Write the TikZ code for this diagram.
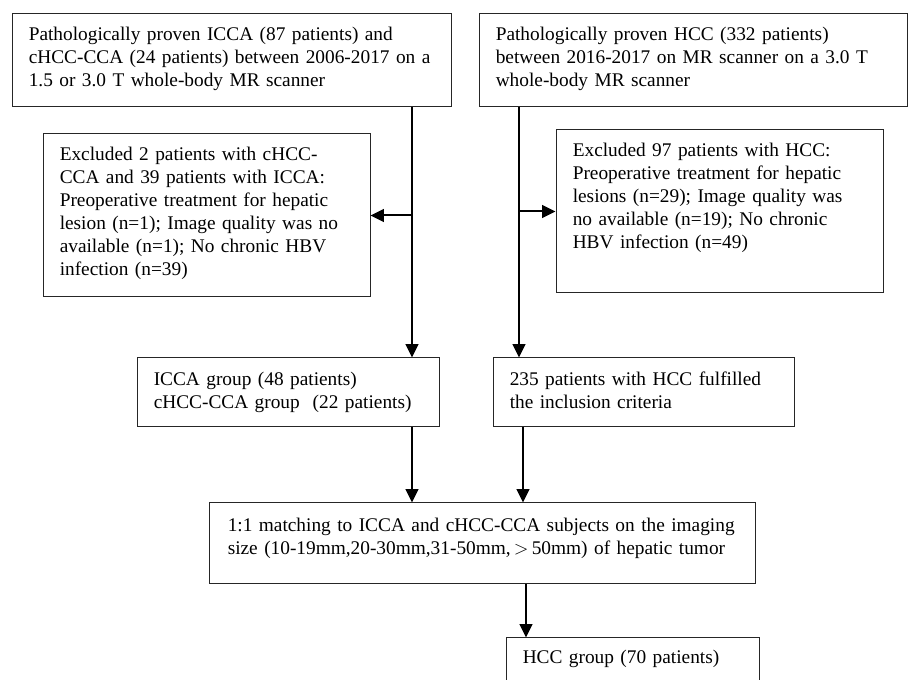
\documentclass[tikz,border=0pt]{standalone}
\usepackage{fontspec}
\setmainfont{Liberation Serif}
\usetikzlibrary{arrows.meta,fit}

\begin{document}
\begin{tikzpicture}[x=0.75pt,y=-0.75pt,
    flowbox/.style={draw=black!85,line width=0.75pt,inner sep=0pt},
    flowtext/.style={anchor=base west,align=left,inner sep=0pt,text width=460pt,
      font=\fontsize{14.5}{17.25}\selectfont},
    flowarrow/.style={line width=1.5pt,-{Triangle[length=10pt,width=9.5pt]}}]

  \useasboundingbox (0,0) rectangle (908,680);

  % boxes
  \node[flowbox, fit={(12,14) (451,107)}] (iccasrc) {};
  \node[flowbox, fit={(479,14) (907,107)}] (hccsrc) {};
  \node[flowbox, fit={(43,134) (370,297)}] (exclicca) {};
  \node[flowbox, fit={(556,130) (883,293)}] (exclhcc) {};
  \node[flowbox, fit={(137,358) (439,427)}] (iccagrp) {};
  \node[flowbox, fit={(493,358) (794,427)}] (hccincl) {};
  \node[flowbox, fit={(209,503) (755,584)}] (match) {};
  \node[flowbox, fit={(506,638) (759,700)}] (hccgrp) {};

  % texts
  \node[flowtext] (iccasrctxt) at ([shift={(17,27)}]iccasrc.north west)
    {Pathologically proven ICCA (87 patients) and\\
     cHCC-CCA (24 patients) between 2006-2017 on a\\
     1.5 or 3.0 T whole-body MR scanner};
  \node[flowtext] (hccsrctxt) at ([shift={(17,27)}]hccsrc.north west)
    {Pathologically proven HCC (332 patients)\\
     between 2016-2017 on MR scanner on a 3.0 T\\
     whole-body MR scanner};
  \node[flowtext] (excliccatxt) at ([shift={(17,27)}]exclicca.north west)
    {Excluded 2 patients with cHCC-\\
     CCA and 39 patients with ICCA:\\
     Preoperative treatment for hepatic\\
     lesion (n=1); Image quality was no\\
     available (n=1); No chronic HBV\\
     infection (n=39)};
  \node[flowtext] (exclhcctxt) at ([shift={(17,27)}]exclhcc.north west)
    {Excluded 97 patients with HCC:\\
     Preoperative treatment for hepatic\\
     lesions (n=29); Image quality was\\
     no available (n=19); No chronic\\
     HBV infection (n=49)};
  \node[flowtext] (iccagrptxt) at ([shift={(17,28)}]iccagrp.north west)
    {ICCA group (48 patients)\\
     cHCC-CCA group \ (22 patients)};
  \node[flowtext] (hccincltxt) at ([shift={(17,28)}]hccincl.north west)
    {235 patients with HCC fulfilled\\
     the inclusion criteria};
  \node[flowtext] (matchtxt) at ([shift={(19,29)}]match.north west)
    {1:1 matching to ICCA and cHCC-CCA subjects on the imaging\\
     size (10-19mm,20-30mm,31-50mm,\,$>$\,50mm) of hepatic tumor};
  \node[flowtext] (hccgrptxt) at ([shift={(17,26)}]hccgrp.north west)
    {HCC group (70 patients)};

  % connectors
  \coordinate (lspine) at (412,0);
  \coordinate (rspine) at (519,0);
  \coordinate (rmerge) at (523,0);
  \coordinate (hccdrop) at (526,0);

  \draw[flowarrow] (iccasrc.south -| lspine) -- (iccagrp.north -| lspine);
  \draw[flowarrow] (lspine |- exclicca.east) -- (exclicca.east);
  \draw[flowarrow] (hccsrc.south -| rspine) -- (hccincl.north -| rspine);
  \draw[flowarrow] (rspine |- exclhcc.west) -- (exclhcc.west);
  \draw[flowarrow] (iccagrp.south -| lspine) -- (match.north -| lspine);
  \draw[flowarrow] (hccincl.south -| rmerge) -- (match.north -| rmerge);
  \draw[flowarrow] (match.south -| hccdrop) -- (hccgrp.north -| hccdrop);

\end{tikzpicture}
\end{document}
